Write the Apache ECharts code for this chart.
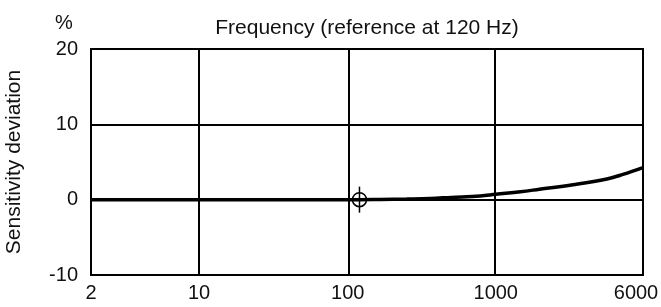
<!DOCTYPE html>
<html>
<head>
<meta charset="utf-8">
<script src="https://cdn.jsdelivr.net/npm/echarts@6/dist/echarts.min.js"></script>
<style>
  html, body { margin: 0; padding: 0; background: #fff; }
  #chart { width: 661px; height: 307px; }
</style>
</head>
<body>
<div id="chart"></div>
<script>
  // axis ticks (frequency in Hz) and where they sit along the axis
  var tickFreqs = [2, 10, 100, 1000, 6000]
  var tickLabels = ['2', '10', '100', '1000', '6000']
  var tickPos = [0, 0.73, 1.735, 2.735, 3.73]

  // sensitivity deviation curve (%)
  var freqs = [2, 10, 100, 120, 165, 250, 360, 500, 785, 1000, 1350, 1700, 2560, 3870, 4700, 6000]
  var deviation = [0, 0, 0, 0, 0.03, 0.08, 0.15, 0.3, 0.5, 0.72, 1.05, 1.38, 1.98, 2.75, 3.35, 4.25]

  var refFreq = 120
  var refValue = 0

  // piecewise log scale between labelled ticks
  function freqToPos(f) {
    for (var i = 0; i < tickFreqs.length - 1; i++) {
      if (f <= tickFreqs[i + 1]) {
        var t = Math.log(f / tickFreqs[i]) / Math.log(tickFreqs[i + 1] / tickFreqs[i])
        return tickPos[i] + (tickPos[i + 1] - tickPos[i]) * t
      }
    }
    return tickPos[tickPos.length - 1]
  }

  function labelFor(v) {
    var best = 0
    for (var i = 1; i < tickPos.length; i++) {
      if (Math.abs(tickPos[i] - v) < Math.abs(tickPos[best] - v)) best = i
    }
    return best
  }

  var font = '"Liberation Sans", Arial, sans-serif'
  var chart = echarts.init(document.getElementById('chart'))
  var option = {
    animation: false,
    textStyle: { fontFamily: font },
    graphic: [
      { type: 'text', x: 367, y: 28, style: { text: 'Frequency (reference at 120 Hz)', fontSize: 21, fontFamily: font, fill: '#111', align: 'center', verticalAlign: 'middle' } },
      { type: 'text', x: 64, y: 23, style: { text: '%', fontSize: 20, fontFamily: font, fill: '#111', align: 'center', verticalAlign: 'middle' } }
    ],
    grid: {
      left: 91, right: 18, top: 49, bottom: 32,
      outerBoundsMode: 'none', containLabel: false,
      show: true, borderColor: '#000', borderWidth: 2
    },
    xAxis: {
      type: 'value',
      min: tickPos[0],
      max: tickPos[tickPos.length - 1],
      axisLine: { show: false },
      axisTick: { show: false },
      splitLine: { show: false },
      axisLabel: {
        customValues: tickPos,
        fontSize: 20,
        color: '#111',
        margin: 8,
        formatter: function (v) {
          var i = labelFor(v)
          return i === tickLabels.length - 1 ? '{r|' + tickLabels[i] + '}' : tickLabels[i]
        },
        rich: { r: { fontSize: 20, color: '#111', padding: [0, 14, 0, 0] } }
      }
    },
    yAxis: {
      type: 'value',
      min: -10,
      max: 20,
      interval: 10,
      name: 'Sensitivity deviation',
      nameLocation: 'middle',
      nameGap: 66,
      nameTextStyle: { fontSize: 21, color: '#111' },
      axisLine: { show: false },
      axisTick: { show: false },
      axisLabel: { fontSize: 20, color: '#111', margin: 13 },
      splitLine: { lineStyle: { color: '#000', width: 2 } }
    },
    series: [
      {
        type: 'line',
        data: freqs.map(function (f, i) { return [freqToPos(f), deviation[i]] }),
        smooth: 0.4,
        symbol: 'none',
        lineStyle: { color: '#000', width: 3.5 },
        markLine: {
          silent: true,
          symbol: 'none',
          label: { show: false },
          lineStyle: { color: '#000', width: 2, type: 'solid' },
          data: tickPos.slice(1, tickPos.length - 1).map(function (p) { return { xAxis: p } })
        },
        z: 3
      },
      {
        type: 'custom',
        data: [[freqToPos(refFreq), refValue]],
        renderItem: function (params, api) {
          var p = api.coord([api.value(0), api.value(1)])
          return {
            type: 'group',
            children: [
              { type: 'circle', shape: { cx: p[0], cy: p[1], r: 7 }, style: { fill: 'none', stroke: '#000', lineWidth: 1.5 } },
              { type: 'line', shape: { x1: p[0], y1: p[1] - 13, x2: p[0], y2: p[1] + 13 }, style: { stroke: '#000', lineWidth: 1.5 } }
            ]
          }
        },
        z: 4
      }
    ]
  }
  chart.setOption(option)
</script>
</body>
</html>
